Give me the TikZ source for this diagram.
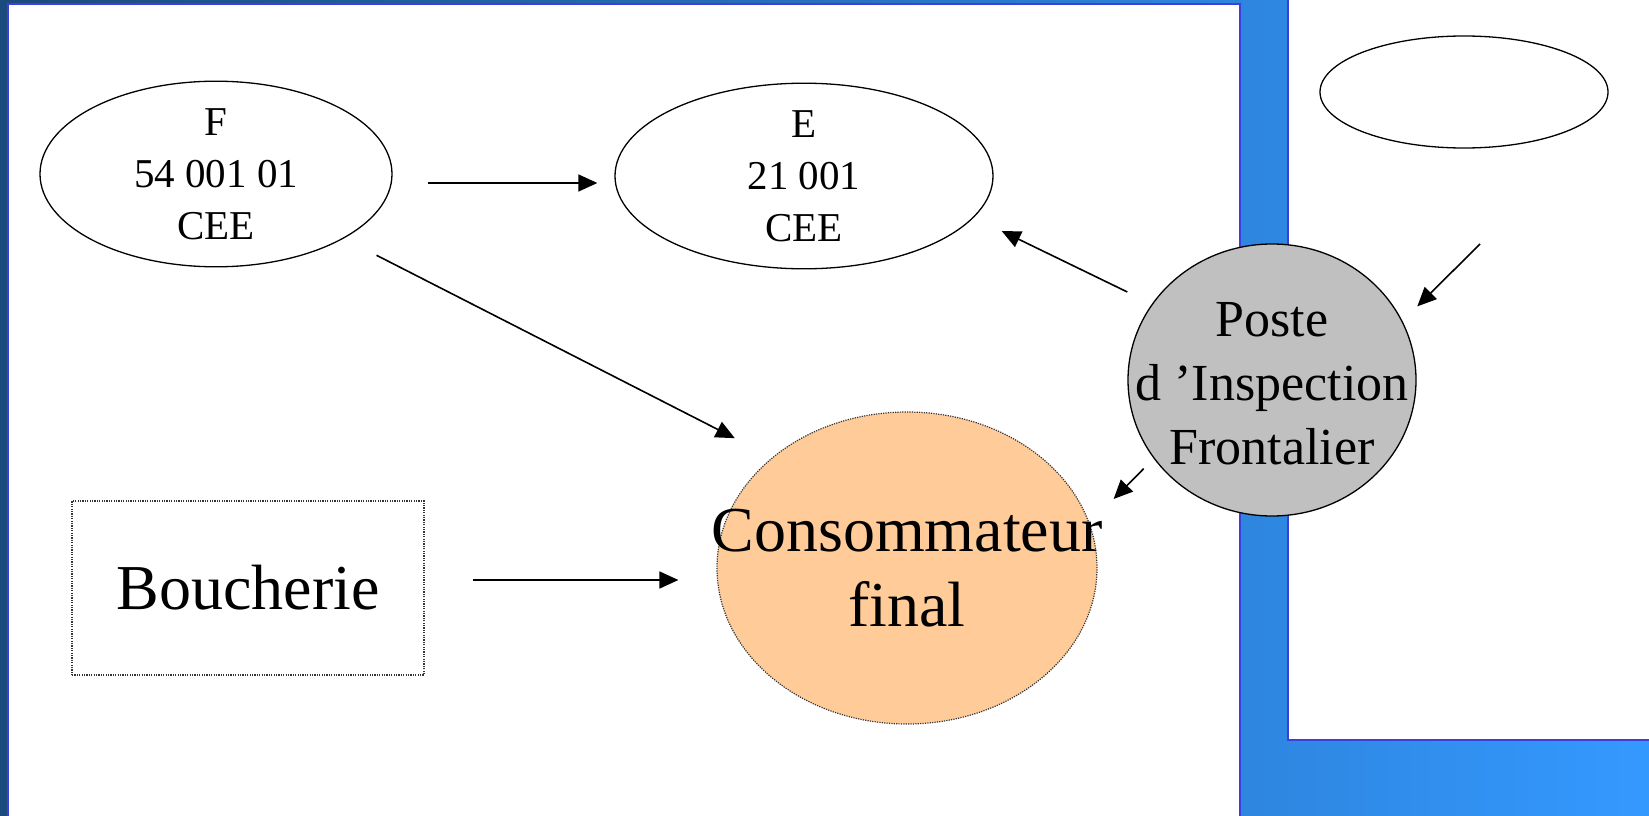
\documentclass[tikz,border=0pt]{standalone}
\usepackage{fontspec}
\setmainfont{Liberation Serif}
\usetikzlibrary{shapes.geometric,arrows.meta}

\definecolor{bleufonce}{RGB}{27,74,124}
\definecolor{bleumilieu}{RGB}{44,126,220}
\definecolor{bleuclair}{RGB}{52,153,255}
\definecolor{cadre}{RGB}{62,62,218}
\definecolor{gris}{RGB}{192,192,192}
\definecolor{peche}{RGB}{255,204,153}

\tikzset{
    bulle/.style={ellipse, draw, line width=1.3pt, inner sep=0pt, align=center},
    pointille/.style={draw=black!80, dash pattern=on 1.2pt off 1.2pt, line width=1.2pt},
    fleche/.style={-{Triangle[length=19pt,width=17pt]}, line width=1.6pt},
    petit/.style={font=\fontsize{41}{52}\selectfont},
    moyen/.style={font=\fontsize{52}{64}\selectfont, align=center},
    grand/.style={font=\fontsize{64}{75}\selectfont, align=center},
    panneau/.style={draw=cadre, fill=white, line width=1.2pt},
}

\begin{document}
\begin{tikzpicture}[x=1pt,y=-1pt]

    \useasboundingbox (0,0) rectangle (1649,816);

    % fond degrade
    \shade[left color=bleufonce, middle color=bleumilieu, right color=bleuclair] (0,0) rectangle (1649,816);

    % panneaux blancs
    \draw[panneau] (8,4) rectangle (1240,830);
    \draw[panneau] (1288,-10) rectangle (1660,740);

    % bulles du haut
    \node[bulle, petit, minimum width=352pt, minimum height=176pt] (f) at (216,174) {F\\54 001 01\\CEE};
    \node[bulle, petit, minimum width=378pt, minimum height=180pt] (e) at (804,176) {E\\21 001\\CEE};
    \node[bulle, minimum width=288pt, minimum height=112pt] (vide) at (1464,92) {};

    % poste frontalier (texte en label pour garder la taille du cercle)
    \node[bulle, fill=gris, minimum width=288pt, minimum height=272pt,
          label={[moyen, inner sep=0pt, yshift=-4pt]center:Poste\\d ’Inspection\\Frontalier}] (poste) at (1272,380) {};

    % consommateur et boucherie
    \node[ellipse, pointille, fill=peche, inner sep=0pt, minimum width=380pt, minimum height=312pt,
          label={[grand, inner sep=0pt]center:Consommateur\\final}] (cons) at (907,568) {};
    \node[rectangle, pointille, grand, minimum width=352pt, minimum height=174pt] (bouch) at (248,588) {Boucherie};

    % fleches
    \draw[fleche, shorten <=35pt, shorten >=17pt] ([yshift=-9pt]f.east) -- ([yshift=-7pt]e.west);
    \draw[fleche, shorten <=40pt, shorten >=42pt] ([yshift=3pt]f.south east) -- (cons.north west);
    \draw[fleche] ([yshift=88pt]poste.west) -- ([xshift=8pt,yshift=-55pt]e.east);
    \draw[fleche] ([xshift=-26pt,yshift=8pt]poste.south west) -- ([xshift=16pt,yshift=69pt]cons.east);
    \draw[fleche, shorten <=48pt, shorten >=38pt] ([yshift=8pt]bouch.east) -- ([yshift=-12pt]cons.west);

    \coordinate (frontiere) at (1480,244);
    \draw[fleche] (frontiere) -- ([xshift=43pt,yshift=-23pt]poste.north east);

\end{tikzpicture}
\end{document}
